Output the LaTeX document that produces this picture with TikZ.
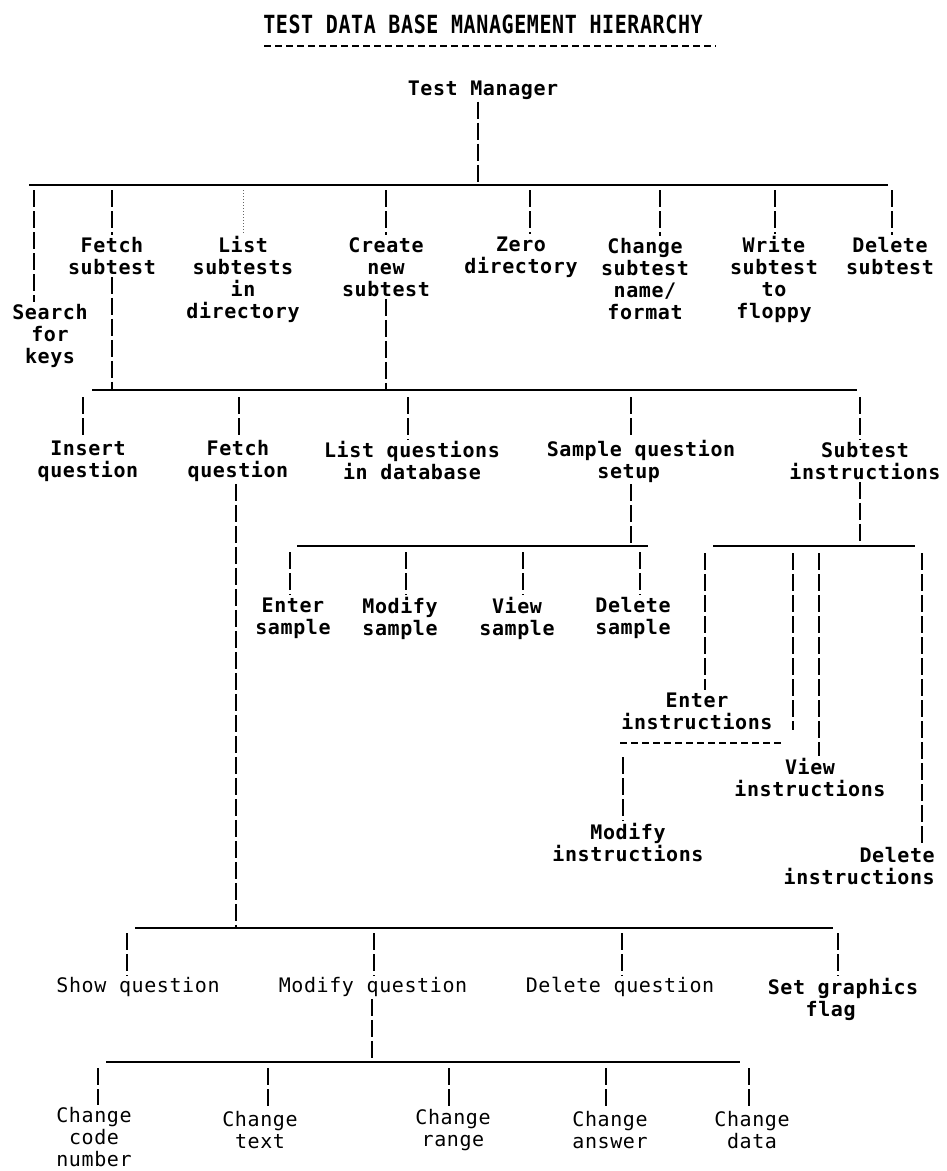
\documentclass[tikz,border=0pt]{standalone}
\usepackage{fontspec}
\newfontfamily\monof[LetterSpace=3]{DejaVu Sans Mono}
\newcommand\boldlbl{\monof\bfseries\fontsize{20}{22}\selectfont}
\newcommand\lightlbl{\monof\fontsize{20}{22}\selectfont}
\tikzset{
  lbl/.style={font=\boldlbl, align=center, inner sep=2pt},
  lbllight/.style={font=\lightlbl, align=center, inner sep=2pt},
  vline/.style={line width=2.4pt, dash pattern=on 17pt off 4pt},
  vthin/.style={line width=1.6pt, dash pattern=on 17pt off 4pt},
  hbar/.style={line width=1.5pt},
  hthin/.style={line width=1.2pt},
  dashl/.style={line width=1.8pt, dash pattern=on 7pt off 4pt},
  dotv/.style={line width=1pt, dotted, black!60},
}
\begin{document}
\begin{tikzpicture}[x=1pt,y=-1pt]
\useasboundingbox (0,0) rectangle (947,1171);
% title
\node[lbl] (title) at (483,24) {\scalebox{1}[1.25]{TEST DATA BASE MANAGEMENT HIERARCHY}};
\coordinate (ulA) at (264,46); \coordinate (ulB) at (716,46);
\draw[dashl] (ulA) -- (ulB);

% root
\node[lbl] (tm) at (483,90) {Test Manager};
\coordinate (b1L) at (29,185); \coordinate (b1R) at (888,185);
\draw[hbar] (b1L) -- (b1R);
\coordinate (tmv) at (478,185);
\draw[vline] (tm.south -| tmv) -- (tmv);

% level 1
\node[lbl] (search) at (50,336) {Search\\for\\keys};
\node[lbl] (fetchs) at (112,256) {Fetch\\subtest};
\node[lbl] (lists) at (243,279) {List\\subtests\\in\\directory};
\node[lbl] (create) at (386,267) {Create\\new\\subtest};
\node[lbl] (zero) at (521,257) {Zero\\directory};
\node[lbl] (chg) at (645,279) {Change\\subtest\\name/\\format};
\node[lbl] (write) at (774,279) {Write\\subtest\\to\\floppy};
\node[lbl] (dels) at (890,256) {Delete\\subtest};

\coordinate (v1) at (34,190);
\coordinate (v2) at (112,190);
\coordinate (v3) at (243,190);
\coordinate (v4) at (386,190);
\coordinate (v5) at (530,190);
\coordinate (v6) at (660,190);
\coordinate (v7) at (775,190);
\coordinate (v8) at (892,190);
\draw[vline] (v1) -- (v1 |- search.north);
\draw[vline] (v2) -- (v2 |- fetchs.north);
\draw[dotv] (v3) -- (v3 |- lists.north);
\draw[vline] (v4) -- (v4 |- create.north);
\draw[vline] (v5) -- (v5 |- zero.north);
\draw[vline] (v6) -- (v6 |- chg.north);
\draw[vline] (v7) -- (v7 |- write.north);
\draw[vline] (v8) -- (v8 |- dels.north);

% level 2 bar
\coordinate (b2L) at (92,390); \coordinate (b2R) at (857,390);
\draw[hbar] (b2L) -- (b2R);
\draw[vline] (fetchs.south -| v2) -- (v2 |- b2L);
\draw[vline] (create.south -| v4) -- (v4 |- b2L);

\node[lbl] (insert) at (88,461) {Insert\\question};
\node[lbl] (fetchq) at (238,461) {Fetch\\question};
\node[lbl] (listq) at (412,461) {List questions\\in database};
\node[lbl] (sampleq) at (641,461) {Sample question\\setup\hphantom{xx}};
\node[lbl] (subinstr) at (865,461) {Subtest\\instructions};

\coordinate (w1) at (83,397);
\coordinate (w2) at (239,397);
\coordinate (w3) at (408,397);
\coordinate (w4) at (631,397);
\coordinate (w5) at (860,397);
\draw[vline] (w1) -- (w1 |- insert.north);
\draw[vline] (w2) -- (w2 |- fetchq.north);
\draw[vline] (w3) -- (w3 |- listq.north);
\draw[vline] (w4) -- (w4 |- sampleq.north);
\draw[vline] (w5) -- (w5 |- subinstr.north);

% sample question setup
\coordinate (sbL) at (297,546); \coordinate (sbR) at (648,546);
\draw[hbar] (sbL) -- (sbR);
\draw[vline] (sampleq.south -| w4) -- (w4 |- sbL);
\node[lbl] (entsam) at (293,618) {Enter\\sample};
\node[lbl] (modsam) at (400,618) {Modify\\sample};
\node[lbl] (viewsam) at (517,618) {View\\sample};
\node[lbl] (delsam) at (633,618) {Delete\\sample};
\coordinate (s1) at (290,552);
\coordinate (s2) at (406,552);
\coordinate (s3) at (523,552);
\coordinate (s4) at (640,552);
\draw[vline] (s1) -- (s1 |- entsam.north);
\draw[vline] (s2) -- (s2 |- modsam.north);
\draw[vline] (s3) -- (s3 |- viewsam.north);
\draw[vline] (s4) -- (s4 |- delsam.north);

% subtest instructions
\coordinate (ibL) at (713,546); \coordinate (ibR) at (915,546);
\draw[hbar] (ibL) -- (ibR);
\draw[vline] (subinstr.south -| w5) -- (w5 |- ibL);
\node[lbl] (enteri) at (697,711) {Enter\\instructions};
\node[lbl] (viewi) at (810,777) {View\\instructions};
\node[lbl, align=right, anchor=east] (deli) at (937,866) {Delete\\instructions};
\node[lbl] (modi) at (628,842) {Modify\\instructions};
\coordinate (i1) at (705,553);
\coordinate (i2) at (793,553);
\coordinate (i2e) at (793,730);
\coordinate (i3) at (819,553);
\coordinate (i4) at (922,553);
\draw[vline] (i1) -- (i1 |- enteri.north);
\draw[vline] (i2) -- (i2e);
\draw[vline] (i3) -- (i3 |- viewi.north);
\draw[vline] (i4) -- (i4 |- deli.north);
\coordinate (dA) at (620,743); \coordinate (dB) at (783,743);
\draw[dashl] (dA) -- (dB);
\coordinate (m1) at (623,757);
\draw[vline] (m1) -- (m1 |- modi.north);

% fetch question subtree
\coordinate (b3L) at (135,928); \coordinate (b3R) at (833,928);
\coordinate (fqv) at (236,928);
\draw[vline] (fetchq.south -| fqv) -- (fqv);
\draw[hthin] (b3L) -- (b3R);
\node[lbllight] (showq) at (138,987) {Show question};
\node[lbllight] (modq) at (373,987) {Modify question};
\node[lbllight] (delq) at (620,987) {Delete question};
\node[lbl] (setg) at (843,999) {Set graphics\\flag\hphantom{xx}};
\coordinate (q1) at (127,933);
\coordinate (q2) at (374,933);
\coordinate (q3) at (622,933);
\coordinate (q4) at (838,933);
\draw[vthin] (q1) -- (q1 |- showq.north);
\draw[vthin] (q2) -- (q2 |- modq.north);
\draw[vthin] (q3) -- (q3 |- delq.north);
\draw[vthin] (q4) -- (q4 |- setg.north);

% modify question subtree
\coordinate (b4L) at (106,1062); \coordinate (b4R) at (740,1062);
\coordinate (mqv) at (372,1062);
\draw[hthin] (b4L) -- (b4R);
\draw[vthin] (modq.south -| mqv) -- (mqv);
\node[lbllight] (ccode) at (94,1137) {Change\\code\\number};
\node[lbllight] (ctext) at (260,1130) {Change\\text};
\node[lbllight] (crange) at (453,1130) {Change\\range};
\node[lbllight] (cans) at (610,1130) {Change\\answer};
\node[lbllight] (cdata) at (752,1130) {Change\\data};
\coordinate (c1) at (98,1068);
\coordinate (c2) at (268,1068);
\coordinate (c3) at (449,1068);
\coordinate (c4) at (606,1068);
\coordinate (c5) at (749,1068);
\draw[vthin] (c1) -- (c1 |- ccode.north);
\draw[vthin] (c2) -- (c2 |- ctext.north);
\draw[vthin] (c3) -- (c3 |- crange.north);
\draw[vthin] (c4) -- (c4 |- cans.north);
\draw[vthin] (c5) -- (c5 |- cdata.north);
\end{tikzpicture}
\end{document}
